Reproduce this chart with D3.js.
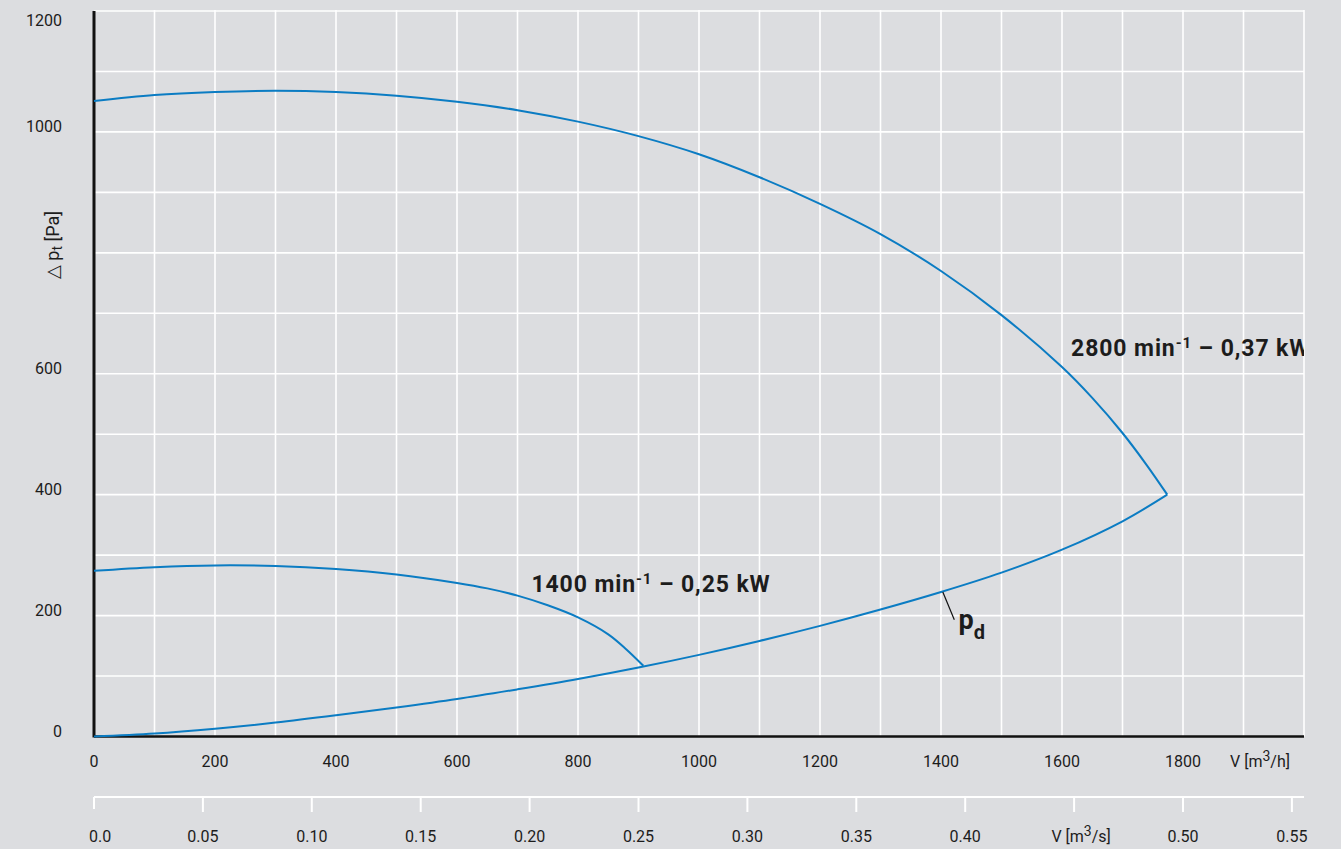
<!DOCTYPE html>
<html>
<head>
<meta charset="utf-8">
<script src="https://cdn.jsdelivr.net/npm/d3@7"></script>
<style>
  html, body { margin: 0; padding: 0; background: #dcdde0; }
  svg { display: block; }
  text { font-family: Roboto, "DejaVu Sans", sans-serif; fill: #1c1c1c; }
</style>
</head>
<body>
<svg id="chart" width="1341" height="849"></svg>
<script>
// ---- data ----
const flowTicks = [0, 200, 400, 600, 800, 1000, 1200, 1400, 1600, 1800];
const flowSecTicks = [0, 0.05, 0.10, 0.15, 0.20, 0.25, 0.30, 0.35, 0.40, 0.45, 0.50, 0.55];
const pressureTicks = [0, 200, 400, 600, 1000, 1200];

const q2800 = [0, 100, 200, 300, 400, 500, 600, 700, 800, 900, 1000, 1100, 1200, 1300, 1400, 1500, 1600, 1650, 1700, 1740, 1774];
const p2800 = [1051, 1061, 1066, 1068, 1066, 1060, 1050, 1036, 1017, 993, 963, 925, 881, 831, 770, 697, 611, 560, 502, 449, 400];

const q1400 = [0, 100, 200, 300, 400, 500, 600, 650, 700, 750, 800, 850, 880, 908];
const p1400 = [274, 280, 283, 282, 277, 268, 254, 245, 233, 217, 197, 169, 144, 117];

const qPd = [0, 100, 200, 300, 400, 500, 600, 700, 800, 900, 1000, 1100, 1200, 1300, 1400, 1500, 1600, 1700, 1774];
const pPd = [0, 5, 13, 23, 35, 48, 62, 78, 95, 114, 135, 158, 183, 210, 239, 271, 309, 356, 400];

const label2800 = ["2800 min", "-1", " – 0,37 kW"];
const label1400 = ["1400 min", "-1", " – 0,25 kW"];

// ---- layout ----
const svg = d3.select("#chart");
const mLeft = 94, mRight = 1304, mTop = 11, mBottom = 736.5;
const x = d3.scaleLinear().domain([0, 2000]).range([mLeft, mRight]);
const xs = d3.scaleLinear().domain([0, 2000 / 3600]).range([mLeft, mRight]);
const y = d3.scaleLinear().domain([0, 1200]).range([mBottom, mTop]);
const blue = "#0b7cc3";

svg.append("defs").append("clipPath").attr("id", "plotclip")
  .append("rect").attr("x", mLeft).attr("y", 0).attr("width", mRight - mLeft).attr("height", 849);

// grid
const grid = svg.append("g");
grid.selectAll("line.v").data(d3.range(100, 2001, 100)).join("line")
  .attr("x1", d => x(d)).attr("x2", d => x(d)).attr("y1", mTop - 1).attr("y2", mBottom)
  .attr("stroke", "#ffffff").attr("stroke-width", 1.6);
grid.selectAll("line.h").data(d3.range(100, 1201, 100)).join("line")
  .attr("x1", mLeft).attr("x2", mRight).attr("y1", d => y(d)).attr("y2", d => y(d))
  .attr("stroke", "#ffffff").attr("stroke-width", 1.6);

// black axes
svg.append("line").attr("x1", mLeft).attr("x2", mRight).attr("y1", mBottom).attr("y2", mBottom)
  .attr("stroke", "#111").attr("stroke-width", 2.4);
svg.append("line").attr("x1", mLeft).attr("x2", mLeft).attr("y1", mTop).attr("y2", mBottom + 1)
  .attr("stroke", "#111").attr("stroke-width", 3);

// y tick labels
svg.append("g").selectAll("text").data(pressureTicks).join("text")
  .attr("x", 62).attr("y", d => d === 1200 ? 26 : y(d) + 0.5)
  .attr("text-anchor", "end").attr("font-size", 16).text(d => d);

// y title
const yt = svg.append("text").attr("transform", "translate(59,245) rotate(-90)")
  .attr("text-anchor", "middle").attr("font-size", 18);
yt.append("tspan").text("△ p");
yt.append("tspan").attr("font-size", 14).attr("dy", 3).text("t");
yt.append("tspan").attr("dy", -3).text(" [Pa]");

// upper x tick labels
svg.append("g").selectAll("text").data(flowTicks).join("text")
  .attr("x", d => x(d)).attr("y", 767).attr("text-anchor", "middle").attr("font-size", 16).text(d => d);
const xt = svg.append("text").attr("x", 1260).attr("y", 767).attr("text-anchor", "middle").attr("font-size", 16);
xt.append("tspan").text("V [m");
xt.append("tspan").attr("font-size", 14).attr("dy", -6).text("3");
xt.append("tspan").attr("dy", 6).text("/h]");

// lower (m3/s) axis
const lower = svg.append("g");
lower.append("line").attr("x1", mLeft).attr("x2", mRight).attr("y1", 797).attr("y2", 797)
  .attr("stroke", "#fff").attr("stroke-width", 2);
lower.selectAll("line.t").data(flowSecTicks).join("line")
  .attr("x1", d => xs(d)).attr("x2", d => xs(d)).attr("y1", 797).attr("y2", (d, i) => i === 0 ? 809 : 812)
  .attr("stroke", "#fff").attr("stroke-width", 2);
lower.selectAll("text").data(flowSecTicks.filter(d => d !== 0.45)).join("text")
  .attr("x", d => d === 0 ? xs(d) - 5 : xs(d)).attr("y", 842)
  .attr("text-anchor", d => d === 0 ? "start" : "middle").attr("font-size", 16)
  .text(d => d === 0 ? "0.0" : d3.format(".2f")(d));
const xst = svg.append("text").attr("x", xs(0.45) + 7).attr("y", 842).attr("text-anchor", "middle").attr("font-size", 16);
xst.append("tspan").text("V [m");
xst.append("tspan").attr("font-size", 14).attr("dy", -6).text("3");
xst.append("tspan").attr("dy", 6).text("/s]");

// curves
const line = d3.line().x(d => x(d[0])).y(d => y(d[1])).curve(d3.curveCatmullRom.alpha(0.5));
const curves = [d3.zip(q2800, p2800), d3.zip(q1400, p1400), d3.zip(qPd, pPd)];
svg.append("g").selectAll("path").data(curves).join("path")
  .attr("d", line).attr("fill", "none").attr("stroke", blue).attr("stroke-width", 2);

// curve labels
function speedLabel(parts, q, p) {
  const t = svg.append("text").attr("x", x(q)).attr("y", y(p))
    .attr("font-size", 23).attr("font-weight", 700).attr("letter-spacing", 0.9)
    .attr("clip-path", "url(#plotclip)");
  t.append("tspan").text(parts[0]);
  t.append("tspan").attr("font-size", 15).attr("dy", -8).text(parts[1]);
  t.append("tspan").attr("dy", 8).text(parts[2]);
}
speedLabel(label2800, 1615, 629);
speedLabel(label1400, 723, 239);

// p_d label with leader
svg.append("line").attr("x1", x(1403)).attr("y1", y(239)).attr("x2", x(1422)).attr("y2", y(193))
  .attr("stroke", "#111").attr("stroke-width", 1.2);
const pd = svg.append("text").attr("x", x(1429)).attr("y", y(178)).attr("font-weight", 700).attr("font-size", 27);
pd.append("tspan").text("p");
pd.append("tspan").attr("font-size", 20).attr("dy", 10).text("d");
</script>
</body>
</html>
